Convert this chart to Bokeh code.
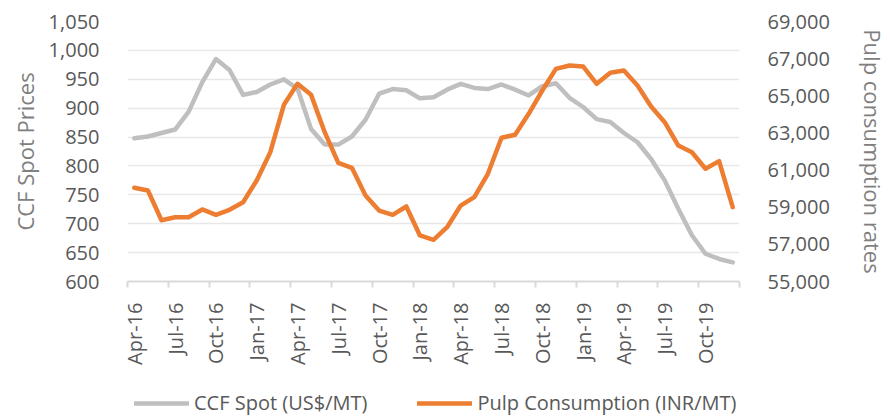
from bokeh.plotting import figure
from bokeh.layouts import column
from bokeh.models import (Range1d, LinearAxis, FixedTicker, NumeralTickFormatter,
                          Legend, LegendItem)
from bokeh.embed import file_html
from bokeh.resources import INLINE

# ---- data ----
months = ["Apr-16", "May-16", "Jun-16", "Jul-16", "Aug-16", "Sep-16", "Oct-16", "Nov-16", "Dec-16",
          "Jan-17", "Feb-17", "Mar-17", "Apr-17", "May-17", "Jun-17", "Jul-17", "Aug-17", "Sep-17",
          "Oct-17", "Nov-17", "Dec-17", "Jan-18", "Feb-18", "Mar-18", "Apr-18", "May-18", "Jun-18",
          "Jul-18", "Aug-18", "Sep-18", "Oct-18", "Nov-18", "Dec-18", "Jan-19", "Feb-19", "Mar-19",
          "Apr-19", "May-19", "Jun-19", "Jul-19", "Aug-19", "Sep-19", "Oct-19", "Nov-19", "Dec-19"]

ccf_spot = [848, 851, 857, 863, 894, 945, 985, 966, 923, 928, 941, 950, 934, 864, 837, 837,
            851, 880, 925, 933, 931, 917, 919, 932, 942, 935, 933, 941, 932, 922, 938, 943,
            918, 902, 881, 876, 857, 841, 812, 775, 726, 680, 648, 639, 633]

pulp = [60050, 59900, 58300, 58460, 58460, 58880, 58590, 58860, 59270, 60440, 61960, 64515,
        65645, 65050, 63040, 61390, 61120, 59630, 58820, 58590, 59040, 57480, 57245, 57925,
        59090, 59540, 60800, 62740, 62900, 64030, 65285, 66450, 66630, 66580, 65645, 66240,
        66360, 65555, 64420, 63580, 62320, 61960, 61070, 61480, 59000]

left_ticks = [600, 650, 700, 750, 800, 850, 900, 950, 1000, 1050]
right_ticks = [55000, 57000, 59000, 61000, 63000, 65000, 67000, 69000]
x_label_step = 3

series_names = ["CCF Spot (US$/MT)", "Pulp Consumption (INR/MT)"]
GRAY = "#bfbfbf"
ORANGE = "#ed7d31"

# ---- main figure ----
x = list(range(len(months)))
label_pos = x[::x_label_step]
boundary_ticks = [i - 0.5 for i in range(0, len(months) + 1, x_label_step)]

p = figure(width=890, height=380, output_backend="svg", toolbar_location=None,
           x_range=Range1d(-0.5, len(months) - 0.5),
           y_range=Range1d(left_ticks[0], left_ticks[-1]),
           min_border_left=127, min_border_right=145, min_border_top=21, min_border_bottom=99)
p.outline_line_color = None
p.background_fill_color = "white"
p.border_fill_color = "white"

p.extra_y_ranges = {"pulp": Range1d(right_ticks[0], right_ticks[-1])}

TICK_FONT = "Open Sans"
TICK_COLOR = "#595959"
TITLE_COLOR = "#7f7f7f"

# x axis
xa = p.xaxis[0]
xa.ticker = FixedTicker(ticks=label_pos, minor_ticks=boundary_ticks)
xa.major_label_overrides = {i: months[i] for i in label_pos}
xa.major_label_orientation = 3.14159265 / 2
xa.major_tick_line_color = None
xa.major_tick_out = 0
xa.major_tick_in = 0
xa.minor_tick_out = 6
xa.minor_tick_in = 0
xa.minor_tick_line_color = "#d9d9d9"
xa.minor_tick_line_width = 2
xa.axis_line_color = "#d9d9d9"
xa.axis_line_width = 2
xa.major_label_standoff = 15
xa.major_label_text_font = TICK_FONT
xa.major_label_text_font_size = "20px"
xa.major_label_text_color = TICK_COLOR

# left axis
ya = p.yaxis[0]
ya.ticker = FixedTicker(ticks=left_ticks)
ya.formatter = NumeralTickFormatter(format="0,0")
ya.axis_line_color = None
ya.major_tick_line_color = None
ya.minor_tick_line_color = None
ya.major_tick_out = 0
ya.major_tick_in = 0
ya.major_label_standoff = 28
ya.major_label_text_font = TICK_FONT
ya.major_label_text_font_size = "20px"
ya.major_label_text_color = TICK_COLOR
ya.axis_label = "CCF Spot Prices"
ya.axis_label_text_font = TICK_FONT
ya.axis_label_text_font_size = "22px"
ya.axis_label_text_font_style = "normal"
ya.axis_label_text_color = TITLE_COLOR
ya.axis_label_standoff = 6

# right axis
ra = LinearAxis(y_range_name="pulp", ticker=FixedTicker(ticks=right_ticks),
                formatter=NumeralTickFormatter(format="0,0"))
ra.axis_line_color = None
ra.major_tick_line_color = None
ra.minor_tick_line_color = None
ra.major_tick_out = 0
ra.major_tick_in = 0
ra.major_label_standoff = 28
ra.major_label_text_font = TICK_FONT
ra.major_label_text_font_size = "20px"
ra.major_label_text_color = TICK_COLOR
ra.axis_label = "Pulp consumption rates"
ra.axis_label_text_font = TICK_FONT
ra.axis_label_text_font_size = "22px"
ra.axis_label_text_font_style = "normal"
ra.axis_label_text_color = TITLE_COLOR
ra.axis_label_standoff = 25
p.add_layout(ra, "right")

# grid
p.xgrid.grid_line_color = None
p.ygrid.ticker = FixedTicker(ticks=left_ticks)
p.ygrid.grid_line_color = "#e8e8e8"
p.ygrid.grid_line_width = 1.5

# lines
p.line(x, ccf_spot, line_color=GRAY, line_width=4.5, line_join="round", line_cap="round")
p.line(x, pulp, y_range_name="pulp", line_color=ORANGE, line_width=4.5,
       line_join="round", line_cap="round")

# ---- legend strip (same series, drawn outside its view so only the legend shows) ----
pl = figure(width=890, height=39, output_backend="svg", toolbar_location=None,
            x_range=Range1d(0, 1), y_range=Range1d(0, 1),
            min_border_left=0, min_border_right=0, min_border_top=0, min_border_bottom=0)
pl.axis.visible = False
pl.grid.grid_line_color = None
pl.outline_line_color = None
lr1 = pl.line(x, ccf_spot, line_color=GRAY, line_width=4.5, line_cap="round")
lr2 = pl.line(x, pulp, line_color=ORANGE, line_width=4.5, line_cap="round")

legend = Legend(items=[LegendItem(label=series_names[0], renderers=[lr1]),
                       LegendItem(label=series_names[1], renderers=[lr2])],
                orientation="horizontal", location=(7, 3),
                glyph_width=55, glyph_height=22, label_height=22, label_standoff=5,
                spacing=50, padding=0, margin=0,
                border_line_color=None, background_fill_alpha=0,
                label_text_font="Open Sans", label_text_font_size="20px",
                label_text_color=TICK_COLOR)
pl.add_layout(legend, "center")

layout = column(p, pl, spacing=0)
open("out.html", "w").write(file_html(layout, INLINE))
